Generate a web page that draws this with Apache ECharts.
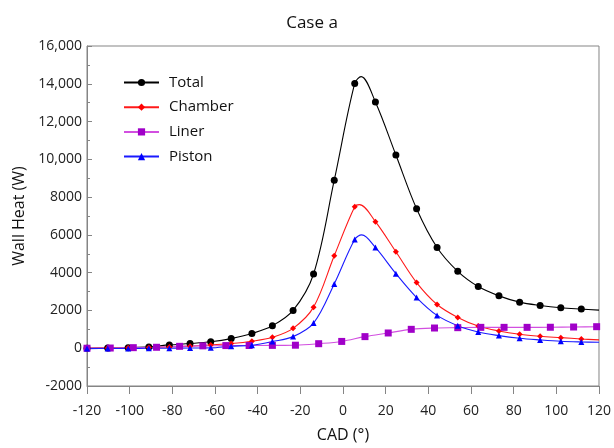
<!DOCTYPE html>
<html>
<head>
<meta charset="utf-8">
<script src="https://cdn.jsdelivr.net/npm/echarts@6/dist/echarts.min.js"></script>
<style>
  html, body { margin: 0; padding: 0; background: #fff; }
  #chart { width: 614px; height: 448px; }
</style>
</head>
<body>
<div id="chart"></div>
<script>
// Crank angle positions of the plotted markers (Total, Chamber, Piston)
const markerCad = [-120, -110.3, -100.7, -91, -81.4, -71.7, -62, -52.4, -42.7, -33.1, -23.4, -13.8,
                   -4.1, 5.5, 15.2, 24.8, 34.5, 44.1, 53.8, 63.4, 73.1, 82.8, 92.4, 102.1, 111.7];
// Liner markers use their own spacing
const linerCad = [-120, -109.1, -98.3, -87.4, -76.6, -65.7, -54.9, -44.0, -33.1, -22.3, -11.4, -0.6,
                  10.3, 21.2, 32.0, 42.9, 53.8, 64.6, 75.5, 86.3, 97.2, 108.1, 118.9];

// Wall heat values (W) at the marker positions
const totalW   = [0, 10, 30, 70, 175, 246, 340, 510, 780, 1190, 2000, 3930,
                  8895, 14016, 13035, 10228, 7386, 5333, 4070, 3263, 2772, 2439, 2263, 2140, 2070];
const chamberW = [0, 10, 20, 40, 70, 110, 175, 246, 368, 579, 1053, 2175,
                  4895, 7491, 6702, 5105, 3474, 2316, 1632, 1175, 912, 737, 632, 561, 491];
const pistonW  = [-20, -15, -10, -5, 0, 10, 20, 110, 160, 350, 614, 1330,
                  3404, 5754, 5333, 3947, 2684, 1737, 1193, 860, 667, 526, 439, 368, 333];
const linerW   = [0, 10, 30, 50, 100, 125, 140, 145, 150, 160, 240, 360,
                  614, 807, 1000, 1070, 1088, 1105, 1105, 1105, 1110, 1123, 1140];

// Curve points between markers (peaks and the line end at 120°), drawn without a symbol
const totalExtra   = [[8.5, 14380], [120, 2018]];
const chamberExtra = [[7.7, 7600], [120, 440]];
const pistonExtra  = [[8.8, 6000], [120, 316]];
const linerExtra   = [[120, 1142]];

const xTicks = { min: -120, max: 120, step: 20 };
const yTicks = { min: -2000, max: 16000, step: 2000 };

function buildData(cads, vals, extra) {
  const pts = cads.map((c, i) => ({ value: [c, vals[i]] }));
  extra.forEach(p => pts.push({ value: [p[0], p[1]], symbol: 'none' }));
  pts.sort((a, b) => a.value[0] - b.value[0]);
  return pts;
}

const FONT = '"Open Sans", "Noto Sans", sans-serif';

function lineSeries(name, data, color, markColor, symbol, size) {
  return {
    name: name,
    type: 'line',
    data: data,
    smooth: 0.35,
    symbol: symbol,
    symbolSize: size,
    showAllSymbol: true,
    lineStyle: { color: color, width: 1.1 },
    itemStyle: { color: markColor, borderWidth: 0 },
    emphasis: { disabled: true },
    animation: false,
    z: 3
  };
}

const chart = echarts.init(document.getElementById('chart'), null, { renderer: 'canvas' });

chart.setOption({
  backgroundColor: '#ffffff',
  animation: false,
  title: {
    text: 'Case a',
    left: 307,
    top: 10,
    textAlign: 'center',
    textStyle: { fontFamily: FONT, fontSize: 17, fontWeight: 'normal', color: '#111' }
  },
  legend: {
    orient: 'vertical',
    left: 118,
    top: 70,
    itemWidth: 35,
    itemHeight: 9,
    itemGap: 9.7,
    textStyle: { fontFamily: FONT, fontSize: 15, color: '#111', padding: [0, 0, 0, 5] },
    data: ['Total', 'Chamber', 'Liner', 'Piston']
  },
  grid: {
    left: 87, right: 12, top: 46, bottom: 60,
    show: true, borderColor: '#858585', borderWidth: 1, backgroundColor: 'transparent'
  },
  xAxis: {
    type: 'value',
    min: xTicks.min, max: xTicks.max, interval: xTicks.step,
    name: 'CAD (°)',
    nameLocation: 'middle',
    nameGap: 41,
    nameTextStyle: { fontFamily: FONT, fontSize: 16, color: '#111' },
    axisLine: { show: true, onZero: false, lineStyle: { color: '#858585', width: 1 } },
    axisTick: { show: true, inside: false, length: 8, lineStyle: { color: '#858585' } },
    axisLabel: { fontFamily: FONT, fontSize: 14, color: '#222', margin: 18 },
    splitLine: { show: false }
  },
  yAxis: {
    type: 'value',
    min: yTicks.min, max: yTicks.max, interval: yTicks.step,
    name: 'Wall Heat (W)',
    nameLocation: 'middle',
    nameGap: 55,
    nameTextStyle: { fontFamily: FONT, fontSize: 16, color: '#111' },
    axisLine: { show: true, onZero: false, lineStyle: { color: '#858585', width: 1 } },
    axisTick: { show: true, inside: true, length: 5, lineStyle: { color: '#858585' } },
    minorTick: { show: true, splitNumber: 2, length: 3, lineStyle: { color: '#858585' } },
    axisLabel: {
      fontFamily: FONT, fontSize: 14, color: '#222', margin: 5,
      formatter: v => (Math.abs(v) >= 10000 ? v.toLocaleString('en-US') : String(v))
    },
    splitLine: { show: false }
  },
  series: [
    lineSeries('Total', buildData(markerCad, totalW, totalExtra), '#000000', '#000000', 'circle', 7),
    lineSeries('Chamber', buildData(markerCad, chamberW, chamberExtra), '#ff1a1a', '#ff0000', 'diamond', 6),
    lineSeries('Liner', buildData(linerCad, linerW, linerExtra), '#d24fe0', '#a000c8', 'rect', 7),
    lineSeries('Piston', buildData(markerCad, pistonW, pistonExtra), '#1a1aff', '#0000ff', 'triangle', 6)
  ]
});
</script>
</body>
</html>
